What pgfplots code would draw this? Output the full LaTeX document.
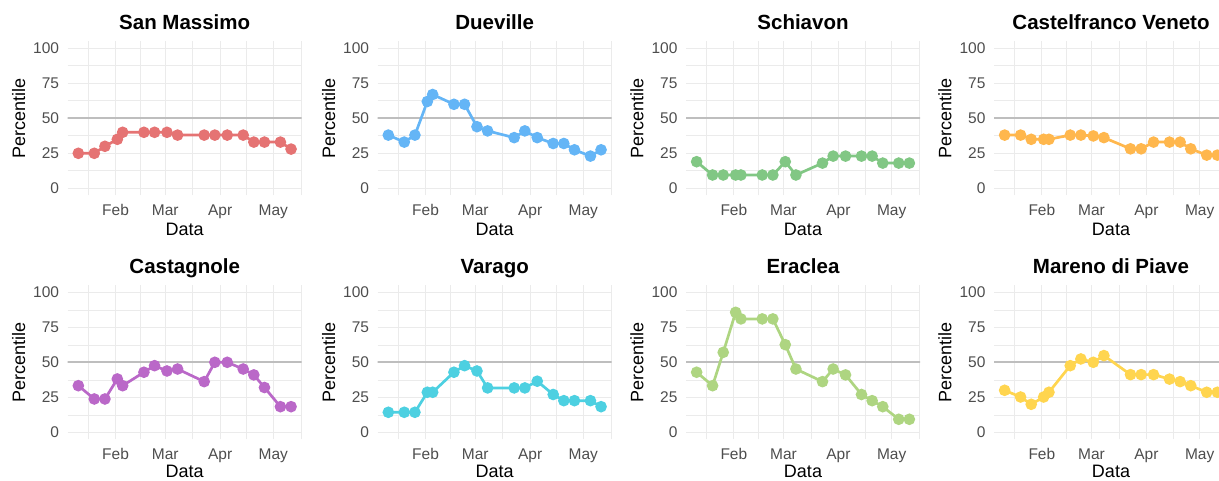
\documentclass[border=0pt]{standalone}
\usepackage{fontspec}
\setmainfont{Liberation Sans}
\usepackage{pgfplots}
\pgfplotsset{compat=1.18}
\usepackage{pgfplotstable}

\definecolor{gridc}{HTML}{EBEBEB}
\definecolor{refc}{HTML}{BEBEBE}
\definecolor{tickc}{HTML}{4D4D4D}
\definecolor{cRed}{HTML}{E57373}
\definecolor{cBlue}{HTML}{64B5F6}
\definecolor{cGreen}{HTML}{81C784}
\definecolor{cOrange}{HTML}{FFB74D}
\definecolor{cPurple}{HTML}{BA68C8}
\definecolor{cCyan}{HTML}{4DD0E1}
\definecolor{cLime}{HTML}{AED581}
\definecolor{cAmber}{HTML}{FFD54F}

% day of year, percentile per station
\pgfplotstableread{
day sm  du   sc  cv   ca   va   er   mp
11  25  38   19  38   33.3 14.3 42.9 30
20  25  33   9.5 38   23.8 14.3 33.3 25.2
26  30  38   9.5 35   23.8 14.3 57.1 20
33  35  62   9.5 35   38.1 28.6 85.7 25.2
36  40  67   9.5 35   33.3 28.6 81   28.6
48  40  60   9.5 38   42.9 42.9 81   47.6
54  40  60   9.5 38   47.6 47.6 81   52.4
61  40  44   19  37.4 43.8 43.8 62.6 50
67  38  41   9.5 36.2 45.2 31.7 45.2 54.8
82  38  36.2 18  28.2 36.2 31.7 36.2 41.2
88  38  41   23  28.2 50   31.7 45.2 41.2
95  38  36.2 23  33   50   36.5 41   41.2
104 38  32   23  33   45.2 27   27   38
110 33  32   23  33   41   22.6 22.6 36.2
116 33  27.5 18  28.2 32   22.6 18.3 33.3
125 33  23   18  23.7 18.3 22.6 9.3  28.6
131 28  27.5 18  23.7 18.3 18.3 9.3  28.6
}\perc

\pgfplotsset{
  panel/.style={
    anchor=south west, scale only axis, width=234pt, height=154pt,
    xmin=5, xmax=137, ymin=-5, ymax=105,
    axis line style={draw=none},
    major tick length=0pt, minor tick length=0pt,
    xtick={32,60,91,121}, xticklabels={Feb,Mar,Apr,May},
    minor xtick={16.5,46,75.5,106,136.5},
    ytick={0,25,50,75,100},
    minor ytick={12.5,37.5,62.5,87.5},
    grid=both,
    major grid style={draw=gridc, line width=1.1pt},
    minor grid style={draw=gridc, line width=0.6pt},
    /pgf/number format/assume math mode=true,
    tick label style={font=\fontsize{15.5}{16}\selectfont, text=tickc, inner sep=0pt},
    xticklabel style={anchor=north, yshift=-9pt},
    yticklabel style={anchor=east, xshift=-8.4pt},
    xlabel={Data}, ylabel={Percentile},
    every axis x label/.style={at={(rel axis cs:0.5,0)}, yshift=-34pt, anchor=center, font=\fontsize{18}{20}\selectfont},
    every axis y label/.style={at={(rel axis cs:0,0.5)}, xshift=-49pt, rotate=90, anchor=center, font=\fontsize{18}{20}\selectfont},
    every axis title/.style={at={(rel axis cs:0.5,1)}, yshift=12pt, anchor=base, font=\bfseries\fontsize{20.5}{22}\selectfont},
  },
  lower/.style={every axis x label/.append style={yshift=2pt}},
  series/.style={color=#1, line width=2.7pt, mark=*, mark size=4.4pt, mark options={solid, fill=#1, draw=none}},
  refline/.style={draw=refc, line width=1.8pt, forget plot},
}

\begin{document}
\begin{tikzpicture}
\useasboundingbox (0,0) rectangle (1219pt,480pt);

\begin{axis}[panel, at={(67.7pt,284.7pt)}, title={San Massimo}]
\addplot[refline] coordinates {(0,50) (200,50)};
\addplot[series=cRed] table[x=day,y=sm] {\perc};
\end{axis}

\begin{axis}[panel, at={(377.7pt,284.7pt)}, title={Dueville}]
\addplot[refline] coordinates {(0,50) (200,50)};
\addplot[series=cBlue] table[x=day,y=du] {\perc};
\end{axis}

\begin{axis}[panel, at={(686pt,284.7pt)}, title={Schiavon}]
\addplot[refline] coordinates {(0,50) (200,50)};
\addplot[series=cGreen] table[x=day,y=sc] {\perc};
\end{axis}

\begin{axis}[panel, at={(994pt,284.7pt)}, title={Castelfranco Veneto}]
\addplot[refline] coordinates {(0,50) (200,50)};
\addplot[series=cOrange] table[x=day,y=cv] {\perc};
\end{axis}

\begin{axis}[panel, lower, at={(67.7pt,40.7pt)}, title={Castagnole}]
\addplot[refline] coordinates {(0,50) (200,50)};
\addplot[series=cPurple] table[x=day,y=ca] {\perc};
\end{axis}

\begin{axis}[panel, lower, at={(377.7pt,40.7pt)}, title={Varago}]
\addplot[refline] coordinates {(0,50) (200,50)};
\addplot[series=cCyan] table[x=day,y=va] {\perc};
\end{axis}

\begin{axis}[panel, lower, at={(686pt,40.7pt)}, title={Eraclea}]
\addplot[refline] coordinates {(0,50) (200,50)};
\addplot[series=cLime] table[x=day,y=er] {\perc};
\end{axis}

\begin{axis}[panel, lower, at={(994pt,40.7pt)}, title={Mareno di Piave}]
\addplot[refline] coordinates {(0,50) (200,50)};
\addplot[series=cAmber] table[x=day,y=mp] {\perc};
\end{axis}
\end{tikzpicture}
\end{document}
